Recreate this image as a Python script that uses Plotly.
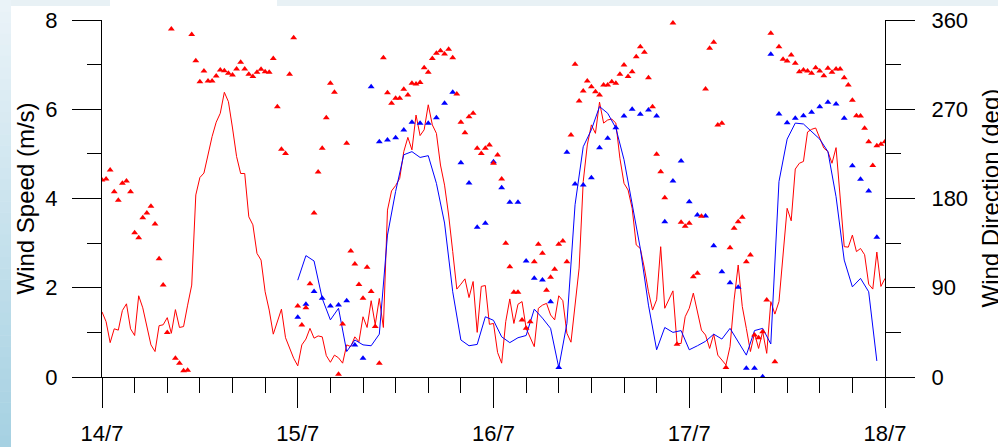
import datetime as dt
import plotly.graph_objects as go

# ---------------- data ----------------
# Site A: wind speed (m/s) every 30 min, 14/7 00:00 -> 18/7 00:00
speed_a = [1.46,1.24,0.77,1.08,1.05,1.49,1.64,1.08,0.93,1.82,1.55,1.17,0.72,0.57,1.15,1.17,1.33,0.98,1.51,1.11,
           1.13,1.61,2.06,4.08,4.47,4.57,4.98,5.39,5.71,5.91,6.38,6.17,5.58,4.94,4.56,4.56,3.59,3.41,2.77,2.62,
           1.91,1.50,0.96,1.24,1.52,0.88,0.64,0.42,0.25,
           0.72,0.85,1.09,0.87,0.92,0.90,0.48,0.33,0.49,0.43,0.31,0.72,0.68,0.90,0.79,1.35,1.11,1.71,1.17,1.76,
           1.11,3.74,4.17,4.29,4.45,5.05,5.37,5.09,5.87,5.41,5.54,6.10,5.65,5.46,4.75,4.30,3.63,2.81,1.97,2.08,
           2.20,1.78,2.14,1.00,2.03,2.05,1.18,1.20,
           0.55,0.31,1.24,1.75,1.20,1.63,1.69,1.09,0.87,0.68,1.54,1.61,1.65,1.39,1.28,1.82,1.71,0.98,0.78,1.69,
           2.44,4.38,5.20,5.65,5.46,6.16,5.69,5.76,5.78,5.69,4.90,4.34,4.19,3.78,2.96,2.88,2.44,1.91,1.50,1.73,
           2.92,1.54,1.73,1.93,0.75,0.75,1.35,1.54,
           1.88,1.50,1.05,0.94,0.64,0.96,0.49,0.38,0.27,0.68,1.73,2.51,1.58,1.09,0.57,0.98,0.64,1.02,0.53,1.69,
           1.41,1.69,2.70,3.78,3.50,4.66,4.79,4.83,5.49,5.55,5.58,5.35,5.13,5.05,4.79,5.14,3.93,2.92,2.91,3.18,
           2.81,2.88,2.74,2.08,1.97,2.80,2.03,2.21]

# Site A: wind direction (deg) every 30 min (None = missing)
dir_a = [198.7,199.7,208.7,186.9,178.2,195.3,197.6,186.9,145.5,140.5,160.7,165.4,172.1,154.3,119.3,92.8,45.0,350.9,18.8,13.8,
         6.4,6.7,345.5,319.0,297.8,308.6,298.5,298.5,303.5,309.6,308.9,306.2,304.5,310.6,317.3,310.6,305.2,302.9,307.2,310.3,
         307.9,307.2,321.3,272.6,229.6,225.5,305.2,342.2,
         71.6,52.4,69.9,94.1,165.4,206.7,230.6,261.5,296.1,287.1,2.7,53.4,235.6,127.1,113.9,93.4,79.3,110.6,86.1,50.8,
         13.8,322.0,286.7,276.0,281.0,281.0,290.1,284.4,296.1,295.5,297.1,311.9,307.2,321.3,326.4,329.1,325.7,330.4,322.0,285.4,
         256.8,246.4,262.5,265.9,230.6,225.5,230.6,233.9,
         215.5,223.9,199.7,134.8,111.3,85.4,85.4,57.5,49.1,55.8,116.3,133.8,124.7,87.4,100.5,108.6,133.8,137.1,116.3,244.0,
         315.3,278.3,288.4,298.5,292.8,287.7,284.4,294.5,294.5,297.8,296.1,305.2,314.6,302.9,307.9,323.0,333.1,327.4,301.8,272.6,
         224.5,207.1,180.8,None,357.0,32.9,156.0,152.0,155.0,
         101.2,104.5,162.0,290.4,331.4,337.5,254.1,255.8,9.7,130.4,149.9,156.6,161.0,116.3,123.0,42.4,39.7,45.7,77.6,346.6,
         15.5,333.1,320.3,318.7,324.7,316.3,307.9,309.6,308.6,306.2,311.9,308.6,303.9,311.3,307.2,310.6,310.6,301.8,294.5,279.0,
         263.5,263.2,250.8,237.3,213.4,233.3,234.6,237.3]

# Site B: hourly, 15/7 00:00 -> 17/7 23:00
speed_b = [2.17,2.72,2.60,1.76,1.28,1.54,0.57,0.83,0.72,0.70,0.96,3.18,4.16,4.98,5.05,4.92,4.96,4.34,3.45,1.91,
           0.83,0.70,0.73,1.35,1.27,0.90,0.77,0.88,0.93,1.52,1.32,1.09,0.21,1.20,3.86,5.16,5.54,6.06,5.91,5.58,
           4.87,3.86,2.88,1.61,0.61,1.11,1.00,1.04,0.61,0.70,0.80,0.96,0.85,1.09,0.79,0.49,1.04,1.09,0.74,4.38,
           5.33,5.69,5.67,5.50,5.33,5.05,4.04,2.62,2.02,2.21,1.91,0.36]
dir_b = [60.2,73.3,86.1,79.3,71.6,72.6,77.0,32.3,18.8,292.8,237.3,239.0,241.3,249.1,256.8,255.8,255.8,261.5,276.0,287.1,
         216.1,195.6,150.9,155.0,217.1,190.9,176.1,176.1,117.0,99.5,97.8,76.0,9.7,226.6,194.6,193.6,201.0,231.3,240.7,251.4,
         263.2,269.9,264.9,269.2,263.2,156.6,197.6,217.8,176.8,163.4,162.4,132.4,106.2,95.1,90.4,8.7,8.7,0.3,325.4,265.2,
         256.5,260.8,263.5,266.9,272.6,277.0,275.3,260.8,213.1,199.3,187.6,140.8]

start = dt.datetime(2000, 7, 14)
times_a = [start + dt.timedelta(minutes=30 * i) for i in range(len(speed_a))]
times_b = [start + dt.timedelta(hours=24 + h) for h in range(len(speed_b))]
end = start + dt.timedelta(days=4)

RED = "#ff0000"
BLUE = "#0000ff"
FONT = "Arial, Liberation Sans, Helvetica, sans-serif"

fig = go.Figure()
fig.add_trace(go.Scatter(x=times_a, y=speed_a, mode="lines", line=dict(color=RED, width=1), yaxis="y"))
fig.add_trace(go.Scatter(x=times_b, y=speed_b, mode="lines", line=dict(color=BLUE, width=1), yaxis="y"))
fig.add_trace(go.Scatter(x=times_b, y=dir_b, mode="markers",
                         marker=dict(symbol="triangle-up", size=6, color=BLUE, line=dict(width=0)), yaxis="y2"))
fig.add_trace(go.Scatter(x=times_a, y=dir_a, mode="markers",
                         marker=dict(symbol="triangle-up", size=6, color=RED, line=dict(width=0)), yaxis="y2"))

# ---------------- layout ----------------
W, H = 998, 447
L, R, T, B = 102, 113, 20, 70
pw, ph = W - L - R, H - T - B

def px(xpix):
    return (xpix - L) / pw

def py(ypix):
    return (H - B - ypix) / ph

shapes = []
# left gradient strip
n = 40
c0 = (0xea, 0xf3, 0xf8)
c1 = (0xa6, 0xd1, 0xe2)
for k in range(n):
    f = k / (n - 1)
    col = "rgb(%d,%d,%d)" % tuple(int(round(c0[j] + (c1[j] - c0[j]) * f)) for j in range(3))
    y0p = H * k / n
    y1p = H * (k + 1) / n + 0.5
    shapes.append(dict(type="rect", xref="paper", yref="paper", x0=px(0), x1=px(11),
                       y0=py(y1p), y1=py(y0p), fillcolor=col, line=dict(width=0), layer="below"))
# top strip
for a, b in [(11, 110), (277, 998)]:
    shapes.append(dict(type="rect", xref="paper", yref="paper", x0=px(a), x1=px(b),
                       y0=py(6), y1=py(0), fillcolor="#e8f1f5", line=dict(width=0), layer="below"))

axis_common = dict(showgrid=False, zeroline=False, showline=True, linecolor="black", linewidth=1,
                   ticks="outside", tickcolor="black", tickwidth=1, automargin=False,
                   tickfont=dict(family=FONT, size=22, color="black"))

fig.update_layout(
    width=W, height=H, margin=dict(l=L, r=R, t=T, b=B, autoexpand=False),
    paper_bgcolor="white", plot_bgcolor="rgba(0,0,0,0)",
    showlegend=False, shapes=shapes,
    font=dict(family=FONT, color="black"),
    xaxis=dict(**axis_common, type="date", range=[start, end], tick0=start, dtick=86400000,
               tickformat="%-d/%-m", ticklen=30, ticklabelstandoff=7,
               minor=dict(dtick=4 * 3600 * 1000, tick0=start, ticks="outside", ticklen=15,
                          tickcolor="black", tickwidth=1, showgrid=False)),
    yaxis=dict(**axis_common, range=[0, 8], tick0=0, dtick=2, ticklen=29, ticklabelstandoff=10,
               minor=dict(dtick=1, ticks="outside", ticklen=14, tickcolor="black", tickwidth=1, showgrid=False)),
    yaxis2=dict(**axis_common, overlaying="y", side="right", anchor="x", range=[0, 360], tick0=0, dtick=90,
                ticklen=29, ticklabelstandoff=12,
                minor=dict(dtick=45, ticks="outside", ticklen=15, tickcolor="black", tickwidth=1, showgrid=False)),
    annotations=[
        dict(text="Wind Speed (m/s)", xref="paper", yref="paper", x=px(25), y=0.5, xanchor="center",
             yanchor="middle", textangle=-90, showarrow=False, font=dict(family=FONT, size=24, color="black")),
        dict(text="Wind Direction (deg)", xref="paper", yref="paper", x=px(990), y=0.5, xanchor="center",
             yanchor="middle", textangle=-90, showarrow=False, font=dict(family=FONT, size=24, color="black")),
    ],
)

fig.write_html("out.html")
